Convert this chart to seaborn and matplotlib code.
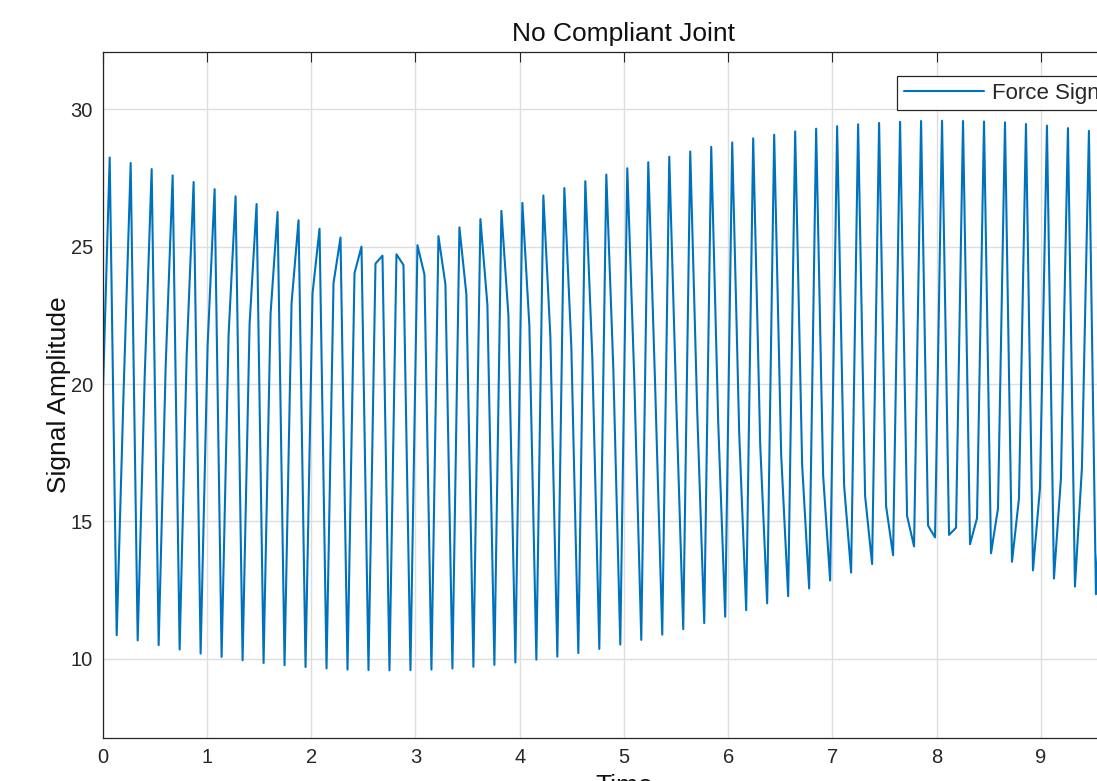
import numpy as np
import pandas as pd
import matplotlib
matplotlib.use("Agg")
import matplotlib.pyplot as plt
import seaborn as sns

# Sampled force sensor readings (one reading every SAMPLE_PERIOD seconds)
SAMPLE_PERIOD = 0.0671
force_signal = [
    19.45,
    28.24, 10.86, 19.84,  28.04, 10.67, 20.24,  27.82, 10.50, 20.63,
    27.59, 10.34, 21.02,  27.35, 10.19, 21.41,  27.09, 10.07, 21.80,
    26.83, 9.95, 22.18,   26.55, 9.85, 22.56,   26.26, 9.77, 22.94,
    25.96, 9.70, 23.30,   25.65, 9.65, 23.67,   25.33, 9.61, 24.03,
    25.00, 9.59, 24.38,   24.67, 9.58, 24.72,   24.33, 9.59, 25.05,
    23.98, 9.61, 25.38,   23.62, 9.65, 25.70,   23.25, 9.71, 26.00,
    22.88, 9.78, 26.30,   22.51, 9.87, 26.59,   22.13, 9.97, 26.86,
    21.74, 10.08, 27.13,  21.36, 10.21, 27.38,  20.97, 10.36, 27.62,
    20.58, 10.52, 27.85,  20.18, 10.69, 28.07,  19.79, 10.88, 28.27,
    19.39, 11.08, 28.46,  19.00, 11.30, 28.63,  18.60, 11.53, 28.79,
    18.21, 11.77, 28.94,  17.82, 12.02, 29.07,  17.43, 12.28, 29.19,
    17.05, 12.56, 29.29,  16.67, 12.85, 29.38,  16.30, 13.14, 29.45,
    15.93, 13.45, 29.50,  15.56, 13.77, 29.54,  15.20, 14.09, 29.57,
    14.85, 14.42, 29.58,  14.51, 14.77, 29.57,  14.17, 15.12, 29.55,
    13.84, 15.47, 29.52,  13.53, 15.84, 29.46,  13.22, 16.21, 29.40,
    12.92, 16.58, 29.31,  12.63, 16.96, 29.21,  12.35, 17.34, 29.10,
]
time_s = np.arange(len(force_signal)) * SAMPLE_PERIOD

x_ticks = [0, 1, 2, 3, 4, 5, 6, 7, 8, 9]
y_ticks = [10, 15, 20, 25, 30]

sns.set_style("white")
plt.rcParams["font.family"] = ["Liberation Sans", "DejaVu Sans"]

df = pd.DataFrame({"Time": time_s, "Force": force_signal})

fig = plt.figure(figsize=(10.97, 7.81), dpi=100)
ax = fig.add_axes([102.7 / 1097, 43 / 781, 1042.4 / 1097, 686 / 781])

sns.lineplot(data=df, x="Time", y="Force", ax=ax, color="#0072BD",
             linewidth=1.5, label="Force Signal", estimator=None, sort=False)

ax.set_xlim(0, 10)
ax.set_ylim(7.12, 32.08)
ax.set_xticks(x_ticks)
ax.set_yticks(y_ticks)
ax.grid(True, color="#dedede", linewidth=1.0)
ax.set_axisbelow(True)
ax.tick_params(direction="in", length=7.5, width=0.8, top=True, right=True,
               labelsize=14.5, colors="#262626", labelcolor="#262626", pad=7)
for s in ax.spines.values():
    s.set_color("#262626")
    s.set_linewidth(0.9)

ax.set_title("No Compliant Joint", fontsize=19, color="#111111", pad=8)
ax.set_ylabel("Signal Amplitude", fontsize=19, color="#111111", labelpad=0)
ax.set_xlabel("Time", fontsize=19, color="#111111", labelpad=5.5)

leg = ax.legend(loc="upper left", bbox_to_anchor=(0.762, 0.965), borderaxespad=0,
                fontsize=16, frameon=True, fancybox=False, edgecolor="#262626",
                handlelength=3.6, handletextpad=0.36, borderpad=0.3)
leg.get_frame().set_linewidth(0.9)
leg.get_frame().set_alpha(1.0)

fig.savefig("out.png", dpi=100)
